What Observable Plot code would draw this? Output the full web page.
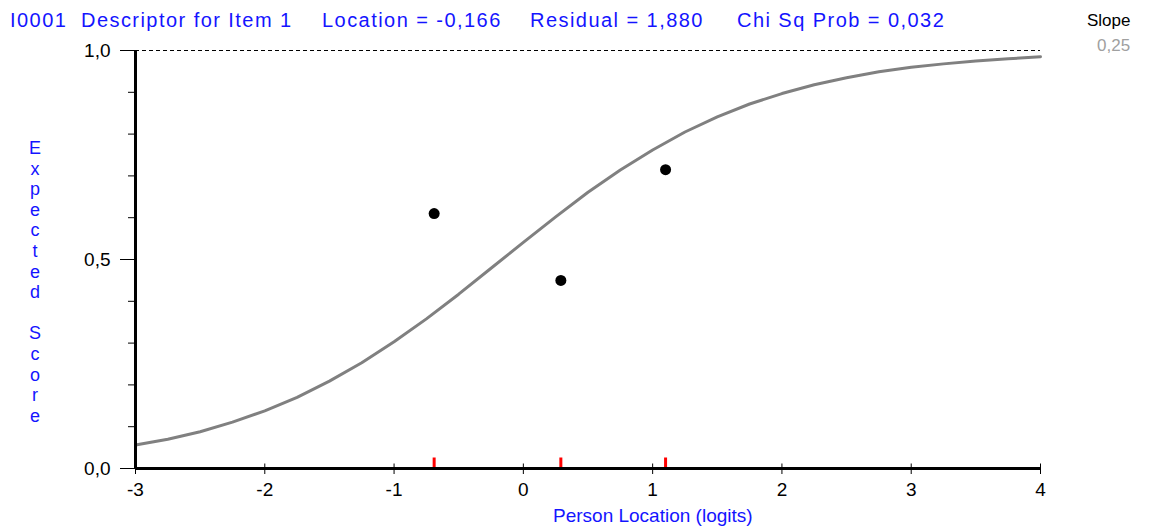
<!DOCTYPE html>
<html><head><meta charset="utf-8">
<script src="https://cdn.jsdelivr.net/npm/d3@7"></script>
<script src="https://cdn.jsdelivr.net/npm/@observablehq/plot@0.6"></script>
<style>
body{margin:0;background:#fff;}
#wrap{position:relative;width:1149px;height:528px;font-family:"Liberation Sans",Arial,sans-serif;overflow:hidden;}
#wrap svg{position:absolute;left:0;top:0;}
.t{position:absolute;white-space:pre;font-size:19px;line-height:1;color:#1414ff;}
.ttl{font-size:20px;letter-spacing:1.45px;}
.yl{position:absolute;width:20px;text-align:center;font-size:18px;line-height:1;color:#1414ff;}
</style></head><body><div id="wrap"></div>
<script>
// ---- text ----
const itemId = "I0001";
const itemDesc = "Descriptor for Item 1";
const titleStats = ["Location = -0,166", "Residual = 1,880", "Chi Sq Prob = 0,032"];
const slopeLabel = "Slope";
const slopeValue = "0,25";
const yLabel = "Expected Score";
const xLabel = "Person Location (logits)";

// ---- ticks ----
const xTicks = [-3, -2, -1, 0, 1, 2, 3, 4];
const yMajor = [0, 0.5, 1];
const yMinor = [0, 0.1, 0.2, 0.3, 0.4, 0.5, 0.6, 0.7, 0.8, 0.9, 1];

// ---- expected score curve ----
const curveX = [-3, -2.75, -2.5, -2.25, -2, -1.75, -1.5, -1.25, -1, -0.75, -0.5, -0.25, 0, 0.25, 0.5, 0.75, 1, 1.25, 1.5, 1.75, 2, 2.25, 2.5, 2.75, 3, 3.25, 3.5, 3.75, 4];
const curveY = [0.056, 0.070, 0.088, 0.111, 0.138, 0.170, 0.209, 0.253, 0.303, 0.358, 0.417, 0.479, 0.541, 0.602, 0.661, 0.714, 0.762, 0.805, 0.841, 0.872, 0.897, 0.918, 0.935, 0.949, 0.960, 0.968, 0.975, 0.980, 0.985];

// ---- observed class means ----
const obsX = [-0.69, 0.29, 1.10];
const obsY = [0.61, 0.45, 0.715];

const fmt = d => d.toFixed(1).replace(".", ",");
const curve = curveX.map((x, i) => ({x, y: curveY[i]}));
const obs = obsX.map((x, i) => ({x, y: obsY[i]}));
const upTick = len => ({draw(ctx) { ctx.moveTo(0, 0); ctx.lineTo(0, -len); }});

const chart = Plot.plot({
  width: 1149, height: 528,
  marginLeft: 135, marginRight: 109, marginTop: 50, marginBottom: 60,
  x: {domain: [-3, 4]},
  y: {domain: [0, 1]},
  style: {fontFamily: "Liberation Sans, Arial, sans-serif", fontSize: "19px", color: "#000", background: "#fff", overflow: "visible"},
  marks: [
    Plot.ruleY([1], {stroke: "#000", strokeWidth: 1, strokeDasharray: "4,3"}),
    Plot.axisY(yMinor, {tickSize: 7, tickFormat: () => "", label: null, stroke: "#000"}),
    Plot.axisY(yMajor, {tickSize: 15, tickPadding: 10, tickFormat: fmt, label: null, stroke: "#000", fill: "#000"}),
    Plot.axisX(xTicks, {tickSize: 6, tickPadding: 8, tickFormat: d => String(d), label: null, stroke: "#000", fill: "#000"}),
    Plot.dot(xTicks, {x: d => d, y: () => 0, symbol: upTick(5), stroke: "#000", fill: "none", strokeWidth: 1}),
    Plot.line(curve, {x: "x", y: "y", stroke: "#808080", strokeWidth: 3}),
    Plot.dot(obs, {x: "x", y: "y", r: 5.5, fill: "#000", stroke: "none"}),
    Plot.dot(obsX, {x: d => d, y: () => 0, symbol: upTick(11), stroke: "#ff0000", fill: "none", strokeWidth: 3}),
    Plot.ruleY([0], {stroke: "#000", strokeWidth: 3}),
    Plot.ruleX([-3], {stroke: "#000", strokeWidth: 3})
  ]
});
const wrap = document.getElementById("wrap");
wrap.appendChild(chart);

function addText(txt, left, top, cls, extra) {
  const d = document.createElement("div");
  d.className = cls;
  d.textContent = txt;
  d.style.left = left + "px";
  d.style.top = top + "px";
  if (extra) Object.assign(d.style, extra);
  wrap.appendChild(d);
  return d;
}
addText(itemId, 10, 10, "t ttl");
addText(itemDesc, 81, 10, "t ttl");
addText(titleStats[0], 322, 10, "t ttl");
addText(titleStats[1], 530, 10, "t ttl");
addText(titleStats[2], 737, 10, "t ttl");
addText(slopeLabel, 1087, 12, "t", {color: "#000", fontSize: "17px"});
addText(slopeValue, 1097, 37, "t", {color: "#a0a0a0", fontSize: "17px"});
addText(xLabel, 553, 506, "t", {fontSize: "19px"});
[...yLabel].forEach((ch, i) => {
  addText(ch === " " ? "\u00a0" : ch, 25, 139 + i * 20.6, "yl");
});
</script>
</body></html>
